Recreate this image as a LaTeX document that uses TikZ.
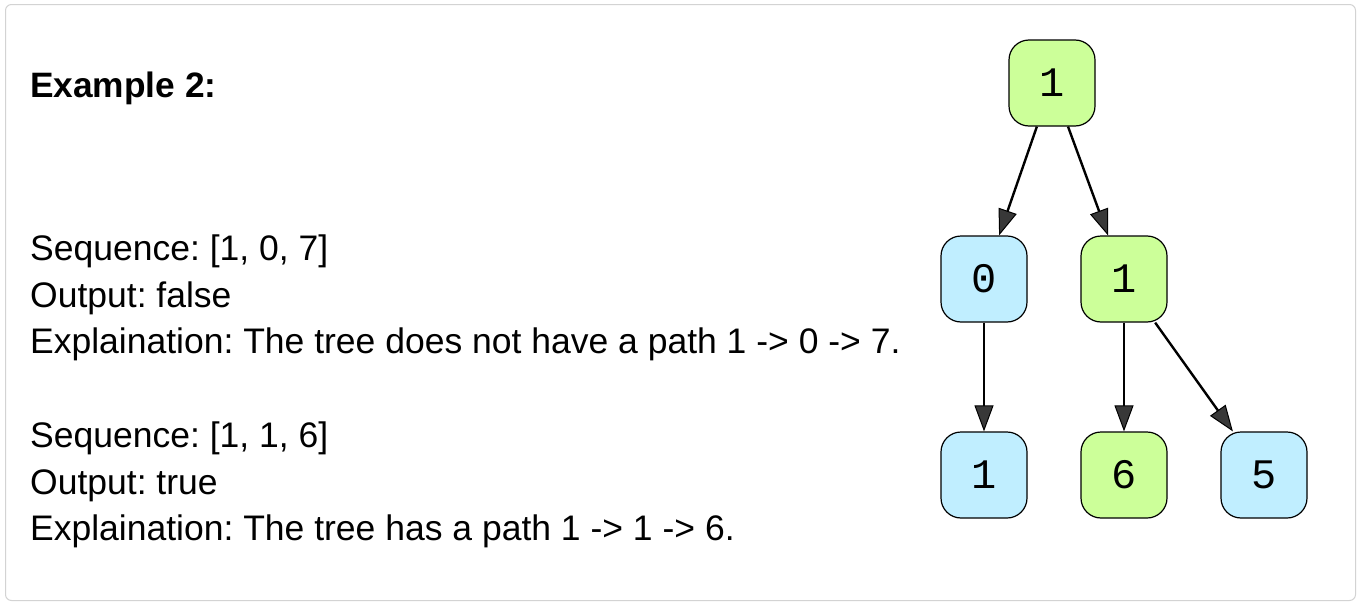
\documentclass[tikz,border=0pt]{standalone}
\usepackage{fontspec}
\setmainfont{Liberation Sans}
\newfontfamily\nodefont{Liberation Mono}
\usetikzlibrary{arrows.meta}
\definecolor{gnode}{HTML}{CCFF99}
\definecolor{bnode}{HTML}{C0EEFF}
\definecolor{framegray}{HTML}{D3D3D3}
\definecolor{headgray}{HTML}{383838}
\tikzset{
  treenode/.style={draw=black, line width=1.2pt, rounded corners=20pt,
    minimum width=86pt, minimum height=86pt, inner sep=0pt,
    font=\nodefont\fontsize{42}{42}\selectfont},
  gn/.style={treenode, fill=gnode},
  bn/.style={treenode, fill=bnode},
  edge/.style={line width=2.4pt, draw=black,
    -{Triangle[length=26pt,width=19pt,fill=headgray,line width=1pt]}},
  txt/.style={anchor=base west, inner sep=0pt, font=\fontsize{35.5}{35.5}\selectfont},
}
\begin{document}
\frenchspacing
\begin{tikzpicture}[x=1pt,y=-1pt]
\useasboundingbox (0,0) rectangle (1361,605);
\draw[framegray, line width=1pt, rounded corners=6pt] (5.5,4.5) rectangle (1355.5,600.5);
\node[txt, font=\bfseries\fontsize{35.3}{35.3}\selectfont] (title) at (30,97) {Example 2:};
\node[txt] (s1) at (30,260) {Sequence: [1, 0, 7]};
\node[txt] (o1) at (30,307) {Output: false};
\node[txt] (e1) at (30,353) {Explaination: The tree does not have a path 1 -> 0 -> 7.};
\node[txt] (s2) at (30,447) {Sequence: [1, 1, 6]};
\node[txt] (o2) at (30,494) {Output: true};
\node[txt] (e2) at (30,540) {Explaination: The tree has a path 1 -> 1 -> 6.};
\node[gn] (r) at (1052,83) {1};
\node[bn] (a) at (984,279) {0};
\node[gn] (b) at (1124,279) {1};
\node[bn] (c) at (984,475) {1};
\node[gn] (d) at (1124,475) {6};
\node[bn] (e) at (1264,475) {5};
\draw[edge] (r) -- (a);
\draw[edge] (r) -- (b);
\draw[edge] (a) -- (c);
\draw[edge] (b) -- (d);
\draw[edge] (b) -- (e);
\end{tikzpicture}
\end{document}
